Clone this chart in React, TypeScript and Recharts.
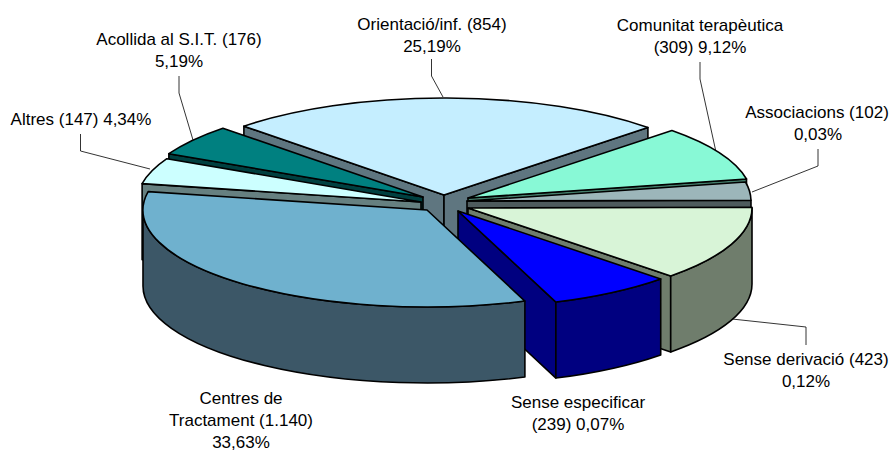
import React from "react";
import { PieChart, Pie } from "recharts";

const sliceNames = ["Orientació/inf.", "Comunitat terapèutica", "Associacions", "Sense derivació", "Sense especificar", "Centres de Tractament", "Altres", "Acollida al S.I.T."];
const sliceValues = [854, 309, 102, 423, 239, 1140, 147, 176];
const chartData = sliceNames.map((name, i) => ({ name, value: sliceValues[i] }));

const topColors = ["#C5EEFF", "#88F9D6", "#9CB6BA", "#D8F4D7", "#0000FF", "#6FB1CE", "#CCFFFF", "#008080"];
const wallColors = ["#5F7680", "#447D6B", "#4E5B5D", "#6F7D6C", "#000080", "#3C5767", "#668080", "#004040"];
const explodeX = [-1, 23, 22, 23, 13, -18, -24, -22];
const explodeY = [-9, -6, -3, 4, 7, 6, -2, -7];
const drawOrder = [0, 7, 1, 6, 2, 3, 4, 5];

const CX = 445;
const CY = 204;
const RX = 284;
const TILT = 0.3415;
const DEPTH = 76;

type LabelLine = { x: number; y: number; text: string };
const labelLines: LabelLine[] = [
  { x: 432, y: 30, text: "Orientació/inf. (854)" },
  { x: 432, y: 52, text: "25,19%" },
  { x: 179, y: 45, text: "Acollida al S.I.T. (176)" },
  { x: 179, y: 67, text: "5,19%" },
  { x: 81, y: 125, text: "Altres (147) 4,34%" },
  { x: 700, y: 31, text: "Comunitat terapèutica" },
  { x: 700, y: 53, text: "(309) 9,12%" },
  { x: 817, y: 118, text: "Associacions (102)" },
  { x: 818, y: 140, text: "0,03%" },
  { x: 806, y: 365, text: "Sense derivació (423)" },
  { x: 806, y: 387, text: "0,12%" },
  { x: 578, y: 408, text: "Sense especificar" },
  { x: 578, y: 430, text: "(239) 0,07%" },
  { x: 241, y: 404, text: "Centres de" },
  { x: 241, y: 426, text: "Tractament (1.140)" },
  { x: 241, y: 448, text: "33,63%" },
];
const leaders = [
  "431.5,59 431.5,76 443,97",
  "179,76 179,93 193,140",
  "80.5,134 80.5,151 150,169",
  "700,62 700,79 716,152",
  "818,149 818,166 752,192",
  "806,345 806,327 732,319",
];

const rad = (d: number) => (d * Math.PI) / 180;

function SliceShape(props: any, idx: number) {
  if (props.index !== idx) return <g />;
  const { cx, cy, outerRadius, startAngle, endAngle } = props;
  const rx = outerRadius;
  const ry = outerRadius * TILT;
  const ox = cx + explodeX[idx];
  const oy = cy + explodeY[idx];
  const a = 90 - startAngle;
  const b = 90 - endAngle;
  const pt = (t: number, d = 0) => [ox + rx * Math.sin(rad(t)), oy - ry * Math.cos(rad(t)) + d];
  const top = topColors[idx];
  const wall = wallColors[idx];
  const sw = 1.6;
  const faces: React.ReactNode[] = [];
  const face = (t: number, k: string) => {
    const p = pt(t);
    const pts = [[ox, oy], p, [p[0], p[1] + DEPTH], [ox, oy + DEPTH]];
    faces.push(<polygon key={k} points={pts.map((q) => q.join(",")).join(" ")} fill={wall} stroke="#000" strokeWidth={sw} strokeLinejoin="round" />);
  };
  if (Math.sin(rad(a)) < 0) face(a, "s");
  if (Math.sin(rad(b)) > 0) face(b, "e");
  const norm = (t: number) => ((t % 360) + 360) % 360;
  const na = norm(a);
  const nb = na + (b - a);
  const wa = Math.max(na, 90);
  const wb = Math.min(nb, 270);
  let wallPath: React.ReactNode = null;
  if (wb > wa) {
    const p1 = pt(wa);
    const p2 = pt(wb);
    const d = `M${p1[0]},${p1[1]} A${rx},${ry} 0 0 1 ${p2[0]},${p2[1]} L${p2[0]},${p2[1] + DEPTH} A${rx},${ry} 0 0 0 ${p1[0]},${p1[1] + DEPTH} Z`;
    wallPath = <path d={d} fill={wall} stroke="#000" strokeWidth={sw} strokeLinejoin="round" />;
  }
  const s = pt(a);
  const e = pt(b);
  const large = b - a > 180 ? 1 : 0;
  return (
    <g>
      {faces}
      {wallPath}
      <path d={`M${ox},${oy} L${s[0]},${s[1]} A${rx},${ry} 0 ${large} 1 ${e[0]},${e[1]} Z`} fill={top} stroke="#000" strokeWidth={sw} strokeLinejoin="round" />
    </g>
  );
}

export default function App() {
  return (
    <div style={{ position: "absolute", left: 0, top: 0, width: 891, height: 451, background: "#fff" }}>
      <PieChart width={891} height={451} margin={{ top: 0, right: 0, bottom: 0, left: 0 }}>
        {leaders.map((pts, i) => (
          <polyline key={i} points={pts} fill="none" stroke="#000" strokeWidth={0.8} />
        ))}
        {drawOrder.map((idx) => (
          <Pie
            key={idx}
            data={chartData}
            dataKey="value"
            nameKey="name"
            cx={CX}
            cy={CY}
            innerRadius={0}
            outerRadius={RX}
            startAngle={134.8}
            endAngle={-225.2}
            paddingAngle={0}
            isAnimationActive={false}
            labelLine={false}
            label={false}
            shape={(p: any) => SliceShape(p, idx)}
          />
        ))}
        {labelLines.map((l, i) => (
          <text key={i} x={l.x} y={l.y} textAnchor="middle" fontFamily="Liberation Sans" fontSize={17} fill="#000">
            {l.text}
          </text>
        ))}
      </PieChart>
    </div>
  );
}
